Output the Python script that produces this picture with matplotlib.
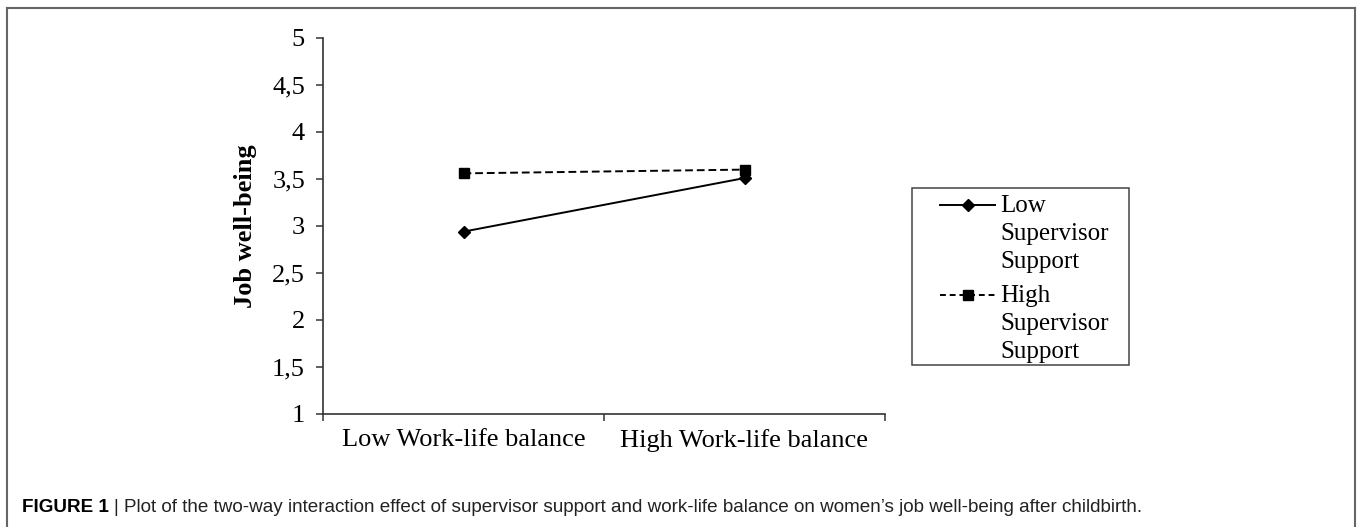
import matplotlib
matplotlib.use("Agg")
import matplotlib.pyplot as plt
from matplotlib.lines import Line2D
from matplotlib.patches import Rectangle

categories = ["Low Work-life balance", "High Work-life balance"]
low_support = [2.94, 3.51]
high_support = [3.56, 3.60]
series_labels = ["Low\nSupervisor\nSupport", "High\nSupervisor\nSupport"]
yticks = [1, 1.5, 2, 2.5, 3, 3.5, 4, 4.5, 5]
ytick_labels = ["1", "1,5", "2", "2,5", "3", "3,5", "4", "4,5", "5"]

W, H = 1357, 527
fig = plt.figure(figsize=(W / 100, H / 100), dpi=100)
fig.patch.set_facecolor("white")

serif = "Liberation Serif"
fs = 19

def fx(px):
    return px / W

def fy(py):
    return 1 - py / H

ax = fig.add_axes([fx(323), fy(414), fx(885) - fx(323), fy(38) - fy(414)])
x = list(range(len(categories)))
ax.plot(x, low_support, color="black", lw=1.4, marker="D", ms=6.5, ls="-")
ax.plot(x, high_support, color="black", lw=1.4, marker="s", ms=7.5, ls=(0, (4, 2)))

ax.set_xlim(-0.5, len(categories) - 0.5)
ax.set_ylim(1, 5)
ax.set_yticks(yticks)
ax.set_yticklabels(ytick_labels, fontfamily=serif, fontsize=fs)
ax.set_xticks([i - 0.5 for i in range(len(categories) + 1)])
ax.set_xticklabels([])
ax.set_xticks(x, minor=True)
ax.set_xticklabels(categories, minor=True, fontfamily=serif, fontsize=fs)
ax.tick_params(axis="x", which="minor", length=0, pad=11)
ax.tick_params(axis="both", which="major", length=5, width=1.1, color="#333333", direction="out")
ax.tick_params(axis="y", pad=8)
for s in ["top", "right"]:
    ax.spines[s].set_visible(False)
for s in ["left", "bottom"]:
    ax.spines[s].set_color("#333333")
    ax.spines[s].set_linewidth(1.2)
ax.set_ylabel("Job well-being", fontfamily=serif, fontsize=fs, fontweight="bold", labelpad=11)

# legend (manual, handle aligned with first line of multi-line label)
fig.add_artist(Rectangle((fx(912), fy(365)), fx(1129) - fx(912), fy(188) - fy(365),
                         transform=fig.transFigure, fill=False, ec="#444444", lw=1.1))
styles = [dict(ls="-", marker="D", ms=6), dict(ls=(0, (3, 2)), marker="s", ms=7)]
rows = [205, 295]
for lab, st, ry in zip(series_labels, styles, rows):
    fig.add_artist(Line2D([fx(940), fx(995)], [fy(ry), fy(ry)], transform=fig.transFigure,
                          color="black", lw=1.4, ls=st["ls"]))
    fig.add_artist(Line2D([fx(967.5)], [fy(ry)], transform=fig.transFigure, color="black",
                          marker=st["marker"], ms=st["ms"], ls="none"))
    fig.text(fx(1000), fy(ry - 10), lab, fontfamily=serif, fontsize=18, va="top", ha="left",
             linespacing=1.36)

# outer frame (open at the bottom)
for xs, ys in [([7, 7], [8, 540]), ([1355, 1355], [8, 540]), ([7, 1355], [8, 8])]:
    fig.add_artist(Line2D([fx(v) for v in xs], [fy(v) for v in ys], transform=fig.transFigure,
                          color="#666666", lw=1.5))

# caption
cap_font = ["Liberation Sans Narrow", "Liberation Sans"]
fig.text(fx(22), fy(508), "FIGURE 1", fontfamily=cap_font,
         fontweight="bold", fontsize=13.6, va="center", ha="left")
fig.text(fx(113), fy(508), "|", fontfamily=cap_font, fontsize=13.6, va="center", ha="left",
         color="#222222")
fig.text(fx(124), fy(508),
         "Plot of the two-way interaction effect of supervisor support and work-life balance on women\u2019s job well-being after childbirth.",
         fontfamily=cap_font, fontsize=13.6, va="center", ha="left", color="#222222")

fig.savefig("out.png", dpi=100, facecolor="white")
